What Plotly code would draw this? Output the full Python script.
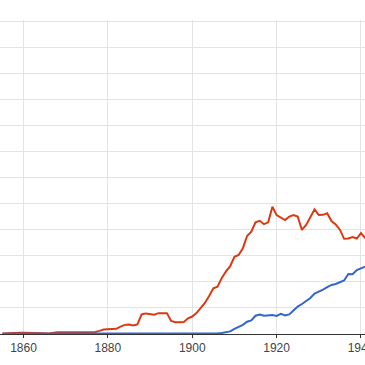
import plotly.graph_objects as go

years = list(range(1855, 1942))

red_values = [
    0.02, 0.03, 0.05, 0.06, 0.05, 0.05, 0.05, 0.05, 0.05, 0.04,  # 1855-1864
    0.03, 0.02, 0.05, 0.07, 0.07, 0.07, 0.07, 0.07, 0.07, 0.07,  # 1865-1874
    0.07, 0.07, 0.08, 0.12, 0.17, 0.18, 0.18, 0.20, 0.28, 0.35,  # 1875-1884
    0.36, 0.33, 0.37, 0.75, 0.79, 0.77, 0.74, 0.80, 0.81, 0.80,  # 1885-1894
    0.50, 0.45, 0.45, 0.46, 0.60, 0.67, 0.80, 1.00, 1.19, 1.46,  # 1895-1904
    1.75, 1.81, 2.15, 2.40, 2.60, 2.96, 3.03, 3.29, 3.76, 3.92,  # 1905-1914
    4.28, 4.34, 4.21, 4.28, 4.88, 4.56, 4.47, 4.37, 4.50, 4.56,  # 1915-1924
    4.50, 3.99, 4.18, 4.50, 4.78, 4.56, 4.57, 4.63, 4.33, 4.20,  # 1925-1934
    4.00, 3.65, 3.66, 3.72, 3.66, 3.87, 3.68,                    # 1935-1941
]

blue_values = [
    0.01, 0.01, 0.01, 0.01, 0.01, 0.01, 0.01, 0.01, 0.01, 0.01,  # 1855-1864
    0.01, 0.01, 0.01, 0.01, 0.01, 0.01, 0.01, 0.01, 0.01, 0.01,  # 1865-1874
    0.01, 0.01, 0.01, 0.01, 0.01, 0.01, 0.01, 0.01, 0.01, 0.01,  # 1875-1884
    0.01, 0.01, 0.01, 0.01, 0.01, 0.01, 0.01, 0.01, 0.01, 0.01,  # 1885-1894
    0.01, 0.01, 0.01, 0.01, 0.01, 0.01, 0.02, 0.02, 0.02, 0.02,  # 1895-1904
    0.02, 0.03, 0.04, 0.06, 0.10, 0.20, 0.28, 0.35, 0.47, 0.52,  # 1905-1914
    0.70, 0.75, 0.70, 0.72, 0.73, 0.69, 0.77, 0.71, 0.75, 0.90,  # 1915-1924
    1.05, 1.15, 1.28, 1.38, 1.55, 1.62, 1.70, 1.80, 1.88, 1.92,  # 1925-1934
    1.98, 2.05, 2.30, 2.29, 2.45, 2.52, 2.58,                    # 1935-1941
]

tick_years = [1860, 1880, 1900, 1920, 1940]
tick_labels = ["1860", "1880", "1900", "1920", "1940"]

fig = go.Figure()
fig.add_trace(go.Scatter(x=years, y=red_values, mode="lines",
                         line=dict(color="#dc3912", width=2), hoverinfo="skip"))
fig.add_trace(go.Scatter(x=years, y=blue_values, mode="lines",
                         line=dict(color="#3366cc", width=2), hoverinfo="skip"))

fig.update_layout(
    width=365, height=365,
    margin=dict(l=0, r=0, t=20, b=31, autoexpand=False),
    paper_bgcolor="white", plot_bgcolor="white",
    showlegend=False,
    font=dict(family="Liberation Sans, Arial, sans-serif", size=12, color="#444"),
    xaxis=dict(
        range=[1854.43, 1940.95],
        tickvals=tick_years, ticktext=tick_labels,
        showgrid=True, gridcolor="#e3e3e3", gridwidth=1,
        showline=True, linecolor="#333", linewidth=1,
        ticks="outside", ticklen=3, tickcolor="#333",
        ticklabeloverflow="allow", automargin=False,
        zeroline=False,
        tickfont=dict(size=12, color="#444"),
    ),
    yaxis=dict(
        range=[0, 12.04],
        dtick=1, tick0=0,
        showgrid=True, gridcolor="#e3e3e3", gridwidth=1,
        showticklabels=False, zeroline=False, showline=False,
        automargin=False,
    ),
    annotations=[dict(
        text="(click on line/label for focus)", xref="paper", yref="paper",
        x=0.527, y=0, yshift=-27, xanchor="center", yanchor="top",
        showarrow=False, font=dict(size=7.5, color="#444"),
    )],
)

fig.write_html("out.html")
